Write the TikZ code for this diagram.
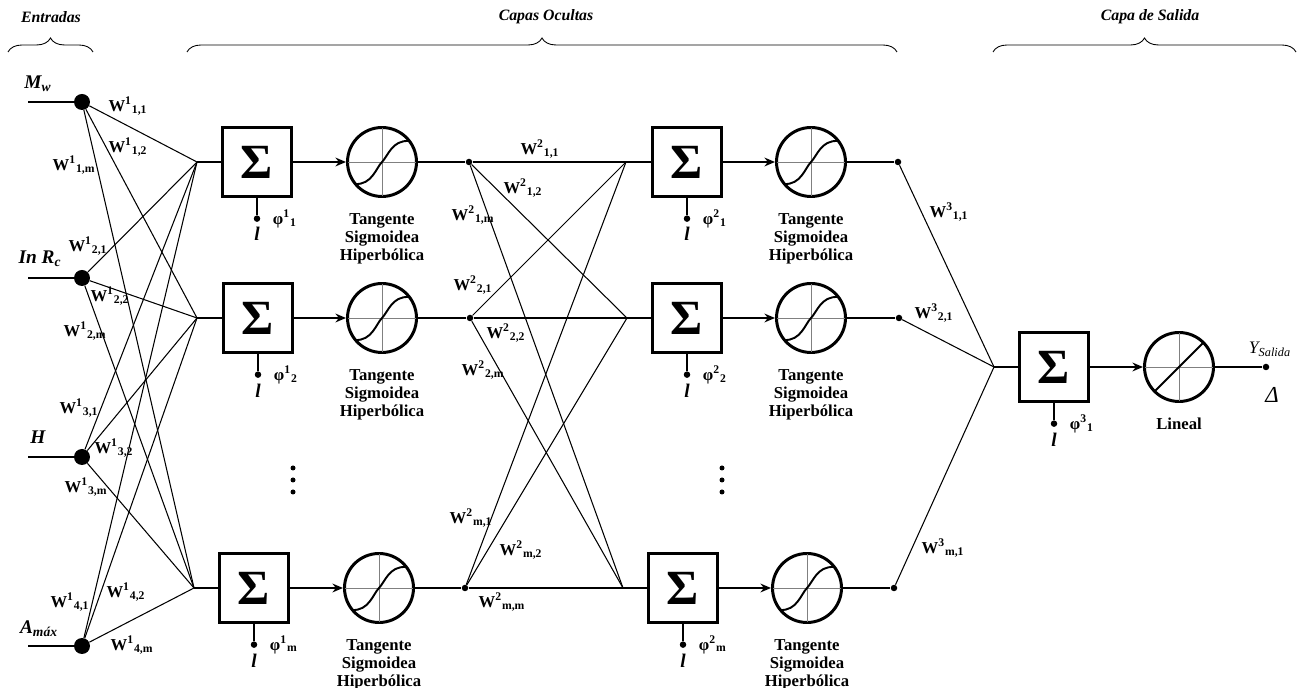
\documentclass[tikz,border=0pt]{standalone}
\usepackage{fontspec}
\setmainfont{Liberation Serif}
\usetikzlibrary{arrows,arrows.meta,positioning,decorations.pathreplacing}
\tikzstyle{sumbox} = [rectangle, draw, line width=1.2pt, minimum size=1.38cm, inner sep=0pt, font=\bfseries\fontsize{28}{30}\selectfont]
\tikzstyle{actfun} = [circle, draw, line width=1.7pt, minimum size=1.38cm, inner sep=0pt]
\tikzstyle{indot} = [circle, fill, inner sep=0pt, minimum size=0.32cm]
\tikzstyle{dot} = [circle, fill, inner sep=0pt, minimum size=0.13cm]
\tikzstyle{vdot} = [circle, fill, inner sep=0pt, minimum size=0.1cm]
\tikzstyle{weight} = [font=\bfseries\fontsize{9.5}{10}\selectfont, inner sep=0pt]
\tikzstyle{inlab} = [font=\bfseries\itshape\fontsize{11}{12}\selectfont, inner sep=0pt]
\tikzstyle{title} = [font=\bfseries\itshape\fontsize{9}{10}\selectfont, inner sep=0pt]
\tikzstyle{funtext} = [font=\bfseries\fontsize{9.5}{10.2}\selectfont, align=center, inner sep=0pt]
\tikzstyle{link} = [line width=0.6pt]
\tikzstyle{wire} = [line width=1.1pt]
\tikzstyle{arrow} = [line width=1.1pt,-{Stealth[length=6pt,width=5pt]}]
\tikzstyle{axisline} = [gray, line width=0.5pt]
\tikzstyle{curve} = [line width=1.1pt]
\tikzstyle{brace} = [decorate, decoration={brace, amplitude=0.28cm}, line width=0.5pt]
\newcommand{\wlab}[2]{W\textsuperscript{#1}\textsubscript{#2}}
\newcommand{\plab}[2]{φ\textsuperscript{#1}\textsubscript{#2}}
% tanh sketch inside an activation circle
\newcommand{\tanhplot}[1]{%
  \begin{scope}[shift={(#1.center)}]
    \draw[axisline] (-34,0) -- (34,0);
    \draw[axisline] (0,-34) -- (0,34);
    \draw[curve] (-27,22) .. controls (-10,23) and (-6,6) .. (0,0) .. controls (6,-6) and (10,-22) .. (27,-21);
  \end{scope}}
% linear sketch inside the output circle
\newcommand{\linplot}[1]{%
  \begin{scope}[shift={(#1.center)}]
    \draw[axisline] (-34,0) -- (34,0);
    \draw[axisline] (0,-34) -- (0,34);
    \draw[curve] (-24,24) -- (24,-24);
  \end{scope}}
\begin{document}
\begin{tikzpicture}[x=0.02cm, y=-0.02cm]
    \useasboundingbox (0,0) rectangle (1299,688);

    % Titles
    \node [title] (tin) at (51,17) {Entradas};
    \node [title] (thid) at (546,17) {Capas Ocultas};
    \node [title] (tout) at (1150,17) {Capa de Salida};
    \draw [brace] (8,52) -- (93,52);
    \draw [brace] (187,52) -- (897,52);
    \draw [brace] (993,52) -- (1296,52);

    % Inputs
    \node [indot] (in1) at (82,102) {};
    \node [indot] (in2) at (82,278) {};
    \node [indot] (in3) at (82,457) {};
    \node [indot] (in4) at (82,646) {};
    \coordinate (x1) at (28,102);
    \coordinate (x2) at (28,278);
    \coordinate (x3) at (28,457);
    \coordinate (x4) at (28,646);
    \node [inlab] (lmw) at (38,84) {M\textsubscript{w}};
    \node [inlab] (lrc) at (40,259) {In R\textsubscript{c}};
    \node [inlab] (lh) at (38,437) {H};
    \node [inlab] (lam) at (39,629) {A\textsubscript{máx}};

    % Hidden Layer 1
    \coordinate (j1a) at (197,162);
    \coordinate (j1b) at (197,318);
    \coordinate (j1c) at (194,588);
    \node [sumbox] (sum1a) at (257,162) {Σ};
    \node [sumbox] (sum1b) at (258,318) {Σ};
    \node [sumbox] (sum1c) at (254,588) {Σ};
    \node [actfun] (act1a) at (382,162) {};
    \node [actfun] (act1b) at (382,318) {};
    \node [actfun] (act1c) at (379,588) {};
    \node [dot] (o1a) at (469,162) {};
    \node [dot] (o1b) at (470,318) {};
    \node [dot] (o1c) at (465,588) {};
    \node [dot, below=0.35cm of sum1a] (b1a) {};
    \node [dot, below=0.35cm of sum1b] (b1b) {};
    \node [dot, below=0.35cm of sum1c] (b1c) {};
    \node [inlab, below=0.1cm of b1a] (l1a) {l};
    \node [inlab, below=0.1cm of b1b] (l1b) {l};
    \node [inlab, below=0.1cm of b1c] (l1c) {l};
    \node [weight, right=0.24cm of b1a] (p1a) {\plab{1}{1}};
    \node [weight, right=0.24cm of b1b] (p1b) {\plab{1}{2}};
    \node [weight, right=0.24cm of b1c] (p1c) {\plab{1}{m}};
    \node [funtext, below=0.3cm of act1a] (f1a) {Tangente\\Sigmoidea\\Hiperbólica};
    \node [funtext, below=0.3cm of act1b] (f1b) {Tangente\\Sigmoidea\\Hiperbólica};
    \node [funtext, below=0.3cm of act1c] (f1c) {Tangente\\Sigmoidea\\Hiperbólica};
    \node [vdot] (v1a) at (293,468) {};
    \node [vdot] (v1b) at (293,480) {};
    \node [vdot] (v1c) at (293,492) {};
    \tanhplot{act1a}
    \tanhplot{act1b}
    \tanhplot{act1c}

    % Hidden Layer 2
    \coordinate (j2a) at (626,162);
    \coordinate (j2b) at (627,318);
    \coordinate (j2c) at (623,588);
    \node [sumbox] (sum2a) at (687,162) {Σ};
    \node [sumbox] (sum2b) at (687,318) {Σ};
    \node [sumbox] (sum2c) at (683,588) {Σ};
    \node [actfun] (act2a) at (811,162) {};
    \node [actfun] (act2b) at (811,318) {};
    \node [actfun] (act2c) at (807,588) {};
    \node [dot] (o2a) at (898,162) {};
    \node [dot] (o2b) at (899,318) {};
    \node [dot] (o2c) at (894,588) {};
    \node [dot, below=0.35cm of sum2a] (b2a) {};
    \node [dot, below=0.35cm of sum2b] (b2b) {};
    \node [dot, below=0.35cm of sum2c] (b2c) {};
    \node [inlab, below=0.1cm of b2a] (l2a) {l};
    \node [inlab, below=0.1cm of b2b] (l2b) {l};
    \node [inlab, below=0.1cm of b2c] (l2c) {l};
    \node [weight, right=0.24cm of b2a] (p2a) {\plab{2}{1}};
    \node [weight, right=0.24cm of b2b] (p2b) {\plab{2}{2}};
    \node [weight, right=0.24cm of b2c] (p2c) {\plab{2}{m}};
    \node [funtext, below=0.3cm of act2a] (f2a) {Tangente\\Sigmoidea\\Hiperbólica};
    \node [funtext, below=0.3cm of act2b] (f2b) {Tangente\\Sigmoidea\\Hiperbólica};
    \node [funtext, below=0.3cm of act2c] (f2c) {Tangente\\Sigmoidea\\Hiperbólica};
    \node [vdot] (v2a) at (722,468) {};
    \node [vdot] (v2b) at (722,480) {};
    \node [vdot] (v2c) at (722,492) {};
    \tanhplot{act2a}
    \tanhplot{act2b}
    \tanhplot{act2c}

    % Output Layer
    \coordinate (j3) at (994,367);
    \node [sumbox] (sum3) at (1054,367) {Σ};
    \node [actfun] (lin) at (1179,367) {};
    \node [dot] (out) at (1266,367) {};
    \node [dot, below=0.35cm of sum3] (b3) {};
    \node [inlab, below=0.1cm of b3] (l3) {l};
    \node [weight, right=0.24cm of b3] (p3) {\plab{3}{1}};
    \node [funtext, below=0.3cm of lin] (f3) {Lineal};
    \node [font=\itshape\fontsize{10}{11}\selectfont, inner sep=0pt] (ysal) at (1270,349) {Y\textsubscript{Salida}};
    \node [font=\itshape\fontsize{13}{14}\selectfont, inner sep=0pt] (delta) at (1272,395) {Δ};
    \linplot{lin}

    % Weights
    \node [weight] (w111) at (128,106) {\wlab{1}{1,1}};
    \node [weight] (w112) at (128,147) {\wlab{1}{1,2}};
    \node [weight] (w11m) at (74,165) {\wlab{1}{1,m}};
    \node [weight] (w121) at (88,246) {\wlab{1}{2,1}};
    \node [weight] (w122) at (110,296) {\wlab{1}{2,2}};
    \node [weight] (w12m) at (85,331) {\wlab{1}{2,m}};
    \node [weight] (w131) at (79,408) {\wlab{1}{3,1}};
    \node [weight] (w132) at (114,448) {\wlab{1}{3,2}};
    \node [weight] (w13m) at (86,487) {\wlab{1}{3,m}};
    \node [weight] (w141) at (70,602) {\wlab{1}{4,1}};
    \node [weight] (w142) at (126,592) {\wlab{1}{4,2}};
    \node [weight] (w14m) at (132,645) {\wlab{1}{4,m}};
    \node [weight] (w211) at (540,149) {\wlab{2}{1,1}};
    \node [weight] (w212) at (523,188) {\wlab{2}{1,2}};
    \node [weight] (w21m) at (473,215) {\wlab{2}{1,m}};
    \node [weight] (w221) at (473,285) {\wlab{2}{2,1}};
    \node [weight] (w222) at (506,333) {\wlab{2}{2,2}};
    \node [weight] (w22m) at (483,370) {\wlab{2}{2,m}};
    \node [weight] (w2m1) at (471,518) {\wlab{2}{m,1}};
    \node [weight] (w2m2) at (521,550) {\wlab{2}{m,2}};
    \node [weight] (w2mm) at (502,602) {\wlab{2}{m,m}};
    \node [weight] (w311) at (949,212) {\wlab{3}{1,1}};
    \node [weight] (w321) at (934,313) {\wlab{3}{2,1}};
    \node [weight] (w3m1) at (943,548) {\wlab{3}{m,1}};

    % Connections
    \draw [wire] (x1) -- (in1);
    \draw [wire] (x2) -- (in2);
    \draw [wire] (x3) -- (in3);
    \draw [wire] (x4) -- (in4);
    \draw [link] (in1) -- (j1a);
    \draw [link] (in1) -- (j1b);
    \draw [link] (in1) -- (j1c);
    \draw [link] (in2) -- (j1a);
    \draw [link] (in2) -- (j1b);
    \draw [link] (in2) -- (j1c);
    \draw [link] (in3) -- (j1a);
    \draw [link] (in3) -- (j1b);
    \draw [link] (in3) -- (j1c);
    \draw [link] (in4) -- (j1a);
    \draw [link] (in4) -- (j1b);
    \draw [link] (in4) -- (j1c);
    \draw [wire] (j1a) -- (sum1a);
    \draw [wire] (j1b) -- (sum1b);
    \draw [wire] (j1c) -- (sum1c);
    \draw [arrow] (sum1a) -- (act1a);
    \draw [arrow] (sum1b) -- (act1b);
    \draw [arrow] (sum1c) -- (act1c);
    \draw [wire] (act1a) -- (o1a);
    \draw [wire] (act1b) -- (o1b);
    \draw [wire] (act1c) -- (o1c);
    \draw [wire] (sum1a) -- (b1a);
    \draw [wire] (sum1b) -- (b1b);
    \draw [wire] (sum1c) -- (b1c);
    \draw [link] (o1a) -- (j2a);
    \draw [link] (o1a) -- (j2b);
    \draw [link] (o1a) -- (j2c);
    \draw [link] (o1b) -- (j2a);
    \draw [link] (o1b) -- (j2b);
    \draw [link] (o1b) -- (j2c);
    \draw [link] (o1c) -- (j2a);
    \draw [link] (o1c) -- (j2b);
    \draw [link] (o1c) -- (j2c);
    \draw [wire] (j2a) -- (sum2a);
    \draw [wire] (j2b) -- (sum2b);
    \draw [wire] (j2c) -- (sum2c);
    \draw [arrow] (sum2a) -- (act2a);
    \draw [arrow] (sum2b) -- (act2b);
    \draw [arrow] (sum2c) -- (act2c);
    \draw [wire] (act2a) -- (o2a);
    \draw [wire] (act2b) -- (o2b);
    \draw [wire] (act2c) -- (o2c);
    \draw [wire] (sum2a) -- (b2a);
    \draw [wire] (sum2b) -- (b2b);
    \draw [wire] (sum2c) -- (b2c);
    \draw [link] (o2a) -- (j3);
    \draw [link] (o2b) -- (j3);
    \draw [link] (o2c) -- (j3);
    \draw [wire] (j3) -- (sum3);
    \draw [arrow] (sum3) -- (lin);
    \draw [wire] (lin) -- (out);
    \draw [wire] (sum3) -- (b3);
\end{tikzpicture}
\end{document}
